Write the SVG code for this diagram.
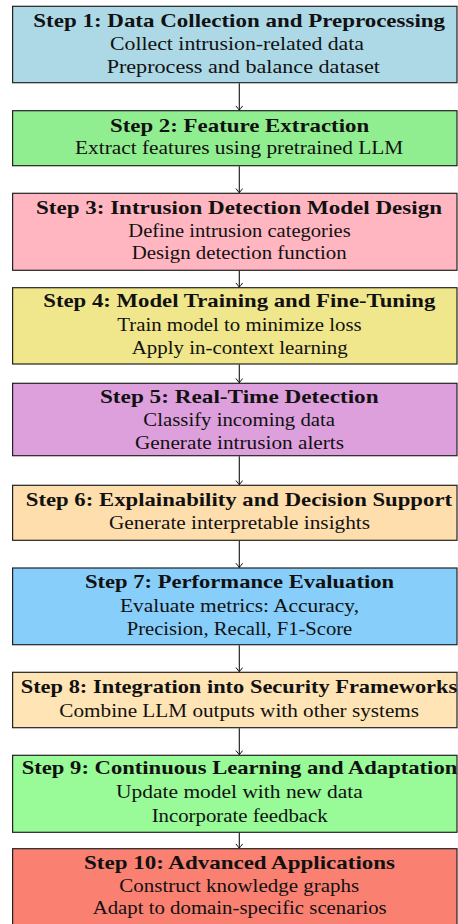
<svg xmlns="http://www.w3.org/2000/svg" width="458" height="924" viewBox="0 0 458 924">
  <style>
    .box { stroke: #222222; stroke-width: 1.2; }
    .t { font-family: "Liberation Serif", "Times New Roman", serif; font-size: 19px; fill: #111111; text-anchor: middle; }
    .h { font-weight: bold; }
    .conn { stroke: #111111; stroke-width: 1.1; fill: none; }
  </style>
  <defs>
    <marker id="tip" viewBox="-5 -4 6 8" refX="0" refY="0" markerWidth="6" markerHeight="8" markerUnits="userSpaceOnUse" orient="auto">
      <path d="M-4.2,-3.4 Q-1.2,-1 0,0 Q-1.2,1 -4.2,3.4" fill="none" stroke="#111111" stroke-width="1"/>
    </marker>
  </defs>

  <rect width="458" height="924" fill="#ffffff"/>

  <!-- pipeline steps, top to bottom -->
  <g id="step1">
    <rect class="box" x="12.6" y="6.3" width="444.4" height="76.4" fill="#ADD8E6"/>
    <text class="t h" x="239.2" y="27.3" textLength="411.7" lengthAdjust="spacingAndGlyphs">Step 1: Data Collection and Preprocessing</text>
    <text class="t" x="237" y="50" textLength="254" lengthAdjust="spacingAndGlyphs">Collect intrusion-related data</text>
    <text class="t" x="243.3" y="72.7" textLength="273.3" lengthAdjust="spacingAndGlyphs">Preprocess and balance dataset</text>
  </g>

  <g id="step2">
    <rect class="box" x="12.6" y="110.7" width="444.4" height="55" fill="#90EE90"/>
    <text class="t h" x="239.6" y="132" textLength="259.3" lengthAdjust="spacingAndGlyphs">Step 2: Feature Extraction</text>
    <text class="t" x="239.2" y="154.3" textLength="328.3" lengthAdjust="spacingAndGlyphs">Extract features using pretrained LLM</text>
  </g>

  <g id="step3">
    <rect class="box" x="12.6" y="193.3" width="444.4" height="77" fill="#FFB6C1"/>
    <text class="t h" x="239" y="214.3" textLength="406" lengthAdjust="spacingAndGlyphs">Step 3: Intrusion Detection Model Design</text>
    <text class="t" x="239.5" y="236.7" textLength="222.4" lengthAdjust="spacingAndGlyphs">Define intrusion categories</text>
    <text class="t" x="239.2" y="259.3" textLength="215" lengthAdjust="spacingAndGlyphs">Design detection function</text>
  </g>

  <g id="step4">
    <rect class="box" x="12.6" y="287.7" width="444.4" height="76.3" fill="#F0E68C"/>
    <text class="t h" x="239.3" y="307" textLength="392" lengthAdjust="spacingAndGlyphs">Step 4: Model Training and Fine-Tuning</text>
    <text class="t" x="239.5" y="330.7" textLength="244.4" lengthAdjust="spacingAndGlyphs">Train model to minimize loss</text>
    <text class="t" x="239.7" y="354" textLength="216" lengthAdjust="spacingAndGlyphs">Apply in-context learning</text>
  </g>

  <g id="step5">
    <rect class="box" x="12.6" y="383.3" width="444.4" height="72.4" fill="#DDA0DD"/>
    <text class="t h" x="239.3" y="402.7" textLength="278.7" lengthAdjust="spacingAndGlyphs">Step 5: Real-Time Detection</text>
    <text class="t" x="239.2" y="426" textLength="191.7" lengthAdjust="spacingAndGlyphs">Classify incoming data</text>
    <text class="t" x="239.5" y="449" textLength="209" lengthAdjust="spacingAndGlyphs">Generate intrusion alerts</text>
  </g>

  <g id="step6">
    <rect class="box" x="12.6" y="485.3" width="444.4" height="55" fill="#FFDEAD"/>
    <text class="t h" x="238.9" y="505.7" textLength="426.3" lengthAdjust="spacingAndGlyphs">Step 6: Explainability and Decision Support</text>
    <text class="t" x="239.5" y="529" textLength="261" lengthAdjust="spacingAndGlyphs">Generate interpretable insights</text>
  </g>

  <g id="step7">
    <rect class="box" x="12.6" y="568" width="444.4" height="76.7" fill="#87CEFA"/>
    <text class="t h" x="239.5" y="588.3" textLength="309" lengthAdjust="spacingAndGlyphs">Step 7: Performance Evaluation</text>
    <text class="t" x="239.5" y="612" textLength="239" lengthAdjust="spacingAndGlyphs">Evaluate metrics: Accuracy,</text>
    <text class="t" x="239.5" y="635" textLength="225.6" lengthAdjust="spacingAndGlyphs">Precision, Recall, F1-Score</text>
  </g>

  <g id="step8">
    <rect class="box" x="12.6" y="672.3" width="444.4" height="55.4" fill="#FFE4B5"/>
    <text class="t h" x="239" y="693.3" textLength="436.6" lengthAdjust="spacingAndGlyphs">Step 8: Integration into Security Frameworks</text>
    <text class="t" x="239.2" y="716.7" textLength="359.7" lengthAdjust="spacingAndGlyphs">Combine LLM outputs with other systems</text>
  </g>

  <g id="step9">
    <rect class="box" x="12.6" y="755.3" width="444.4" height="77" fill="#98FB98"/>
    <text class="t h" x="239.5" y="774.3" textLength="435.6" lengthAdjust="spacingAndGlyphs">Step 9: Continuous Learning and Adaptation</text>
    <text class="t" x="239.4" y="798.3" textLength="246.7" lengthAdjust="spacingAndGlyphs">Update model with new data</text>
    <text class="t" x="239.7" y="821.7" textLength="176" lengthAdjust="spacingAndGlyphs">Incorporate feedback</text>
  </g>

  <g id="step10">
    <rect class="box" x="12.6" y="848.7" width="444.4" height="82" fill="#FA8072"/>
    <text class="t h" x="239.5" y="869" textLength="311" lengthAdjust="spacingAndGlyphs">Step 10: Advanced Applications</text>
    <text class="t" x="239.2" y="891.7" textLength="239.7" lengthAdjust="spacingAndGlyphs">Construct knowledge graphs</text>
    <text class="t" x="239.7" y="914.3" textLength="294" lengthAdjust="spacingAndGlyphs">Adapt to domain-specific scenarios</text>
  </g>

  <!-- arrows between consecutive steps -->
  <g id="connectors" class="conn" marker-end="url(#tip)">
    <line x1="239.3" y1="83.3" x2="239.3" y2="110.1"/>
    <line x1="239.3" y1="166.3" x2="239.3" y2="192.7"/>
    <line x1="239.3" y1="270.9" x2="239.3" y2="287.1"/>
    <line x1="239.3" y1="364.6" x2="239.3" y2="382.7"/>
    <line x1="239.3" y1="456.3" x2="239.3" y2="484.7"/>
    <line x1="239.3" y1="540.9" x2="239.3" y2="567.4"/>
    <line x1="239.3" y1="645.3" x2="239.3" y2="671.7"/>
    <line x1="239.3" y1="728.3" x2="239.3" y2="754.7"/>
    <line x1="239.3" y1="832.9" x2="239.3" y2="848.1"/>
  </g>
</svg>
